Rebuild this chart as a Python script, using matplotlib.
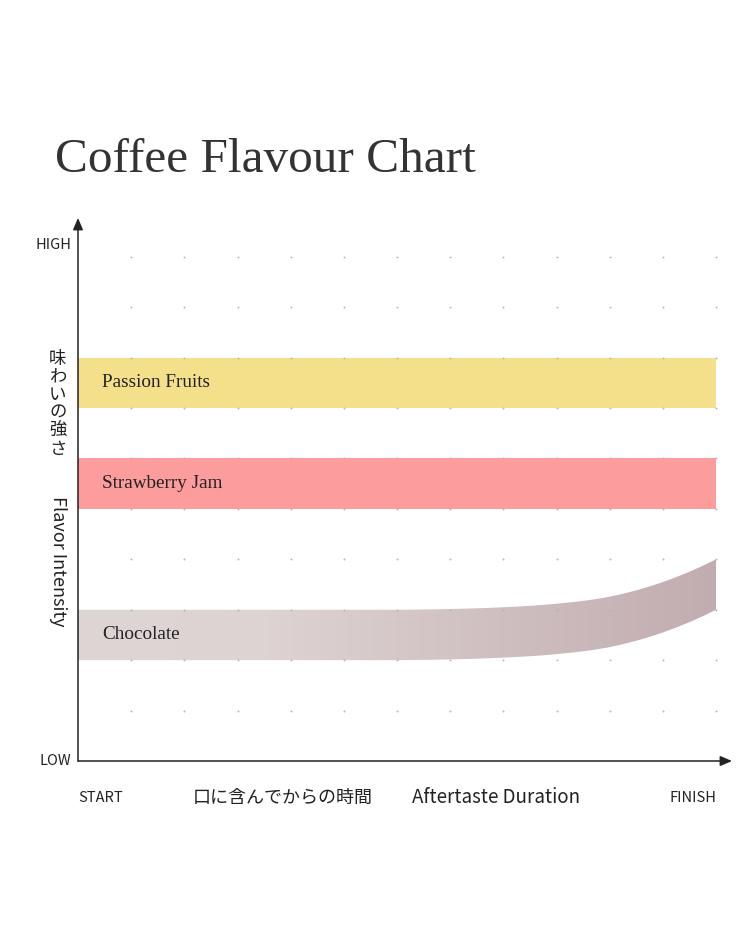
import numpy as np
import matplotlib.pyplot as plt
from matplotlib.colors import LinearSegmentedColormap

# ── Data ─────────────────────────────────────────────────────────────────────
BAND_NAMES = ["Passion Fruits", "Strawberry Jam", "Chocolate"]
BAND_COLORS = ["#f4e08a", "#fd9c9c", "#ded5d5"]
# lower edge of each band along the time axis (band height = 1)
TIME = [0, 1, 2, 3, 4, 5, 6, 7, 8, 9, 10, 11, 12]
PASSION_LOW = [7] * 13
STRAWBERRY_LOW = [5] * 13
CHOCOLATE_LOW = [2, 2, 2, 2, 2, 2, 2.0, 2.015, 2.05, 2.12, 2.26, 2.55, 3.0]
BAND_HEIGHT = 1.0

X_LABELS = ["START", "FINISH"]
Y_LABELS = ["LOW", "HIGH"]
N_COLS = 12
N_ROWS = 10

SANS = ["Noto Sans CJK JP", "DejaVu Sans"]
SERIF = "Liberation Serif"
TEXT = "#222222"


def catmull_rom(xp, yp, n=40):
    """Smooth curve through the given points (for drawing only)."""
    xp = np.asarray(xp, float)
    yp = np.asarray(yp, float)
    px = np.concatenate([[2 * xp[0] - xp[1]], xp, [2 * xp[-1] - xp[-2]]])
    py = np.concatenate([[yp[0]], yp, [3 * yp[-1] - 3 * yp[-2] + yp[-3]]])
    out_x, out_y = [], []
    t = np.linspace(0, 1, n, endpoint=False)
    for i in range(1, len(px) - 2):
        for arr, res in ((px, out_x), (py, out_y)):
            p0, p1, p2, p3 = arr[i - 1:i + 3]
            res.extend(0.5 * (2 * p1 + (-p0 + p2) * t
                              + (2 * p0 - 5 * p1 + 4 * p2 - p3) * t ** 2
                              + (-p0 + 3 * p1 - 3 * p2 + p3) * t ** 3))
    out_x.append(xp[-1])
    out_y.append(yp[-1])
    return np.array(out_x), np.array(out_y)


fig = plt.figure(figsize=(7.5, 9.38), dpi=100)
ax = fig.add_axes([78 / 750, 1 - 761 / 938, (732 - 78) / 750, (761 - 218) / 938])
ax.set_xlim(0, 12.3)
ax.set_ylim(0, 10.77)
ax.axis("off")

x = np.array(TIME, dtype=float)
ax.fill_between(x, PASSION_LOW, np.array(PASSION_LOW) + BAND_HEIGHT,
                color=BAND_COLORS[0], linewidth=0, zorder=2)
ax.fill_between(x, STRAWBERRY_LOW, np.array(STRAWBERRY_LOW) + BAND_HEIGHT,
                color=BAND_COLORS[1], linewidth=0, zorder=2)

# chocolate band with a horizontal gradient
xs, choc_low = catmull_rom(TIME, CHOCOLATE_LOW)
poly = ax.fill_between(xs, choc_low, choc_low + BAND_HEIGHT,
                       color="none", linewidth=0, zorder=2)
cmap = LinearSegmentedColormap.from_list(
    "choc", [(0, "#ded5d5"), (0.3, "#ddd3d2"), (1, "#c2acaf")])
grad = np.linspace(0, 1, 256).reshape(1, -1)
img = ax.imshow(grad, cmap=cmap, extent=[0, 12, 1.9, 4.1], aspect="auto",
                origin="lower", zorder=2)
img.set_clip_path(poly.get_paths()[0], transform=ax.transData)

# grid dots (drawn over the bands)
gx, gy = np.meshgrid(np.arange(1, N_COLS + 1), np.arange(1, N_ROWS + 1))
ax.scatter(gx.ravel(), gy.ravel(), s=1.8, color="#b3b3b3", linewidths=0, zorder=3)

for name, low in zip(BAND_NAMES, [PASSION_LOW, STRAWBERRY_LOW, CHOCOLATE_LOW]):
    ax.text(0.45, low[0] + BAND_HEIGHT / 2, name, family=SERIF, fontsize=13.8,
            color=TEXT, va="center", ha="left", zorder=4)

# axes with arrows
for tip in [(12.3, 0), (0, 10.77)]:
    ax.annotate("", xy=tip, xytext=(0, 0), annotation_clip=False,
                arrowprops=dict(arrowstyle="-|>,head_length=0.7,head_width=0.3",
                                color="#222222", lw=1.1, shrinkA=0, shrinkB=0))

# axis end labels
ax.text(-0.12, 0, Y_LABELS[0], family=SANS, fontsize=10.5, ha="right", va="center", color=TEXT)
ax.text(-0.12, 10.23, Y_LABELS[1], family=SANS, fontsize=10.5, ha="right", va="center", color=TEXT)
ax.text(0, -0.73, X_LABELS[0], family=SANS, fontsize=10.5, ha="left", va="center", color=TEXT)
ax.text(12, -0.73, X_LABELS[1], family=SANS, fontsize=10.5, ha="right", va="center", color=TEXT)

# axis titles
ax.text(3.86, -0.73, "口に含んでからの時間", family=SANS, fontsize=13,
        ha="center", va="center", color=TEXT)
ax.text(7.87, -0.73, "Aftertaste Duration", family=SANS, fontsize=13.5,
        ha="center", va="center", color=TEXT)
ax.text(-0.38, 7.08, "\n".join("味わいの強さ"), family=SANS, fontsize=12.5,
        ha="center", va="center", color=TEXT, linespacing=1.0)
ax.text(-0.38, 3.96, "Flavor Intensity", family=SANS, fontsize=13,
        rotation=270, ha="center", va="center", color=TEXT)

fig.text(55 / 750, 1 - 172 / 938, "Coffee Flavour Chart", family=SERIF,
         fontsize=35.5, color="#333333", ha="left", va="baseline")

fig.savefig("out.png", dpi=100)
